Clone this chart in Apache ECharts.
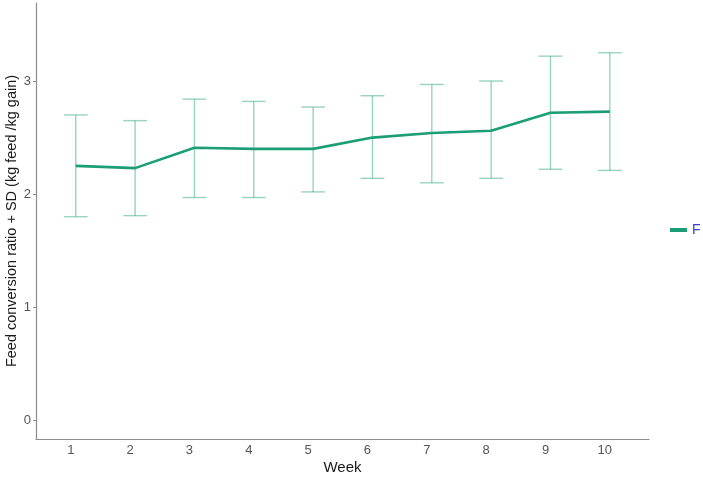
<!DOCTYPE html>
<html>
<head>
<meta charset="utf-8">
<script src="https://cdn.jsdelivr.net/npm/echarts@6/dist/echarts.min.js"></script>
<style>html,body{margin:0;padding:0;background:#fff;}#c{width:703px;height:480px;}</style>
</head>
<body>
<div id="c"></div>
<script>
var weeks = [1, 2, 3, 4, 5, 6, 7, 8, 9, 10];
var fcrMean = [2.25, 2.23, 2.41, 2.40, 2.40, 2.50, 2.54, 2.56, 2.72, 2.73];
var fcrLow  = [1.80, 1.81, 1.97, 1.97, 2.02, 2.14, 2.10, 2.14, 2.22, 2.21];
var fcrHigh = [2.70, 2.65, 2.84, 2.82, 2.77, 2.87, 2.97, 3.00, 3.22, 3.25];
var yTicks = [0, 1, 2, 3];
var seriesName = 'F';

var lineData = weeks.map(function (w, i) { return [w, fcrMean[i]]; });
var errData = weeks.map(function (w, i) { return [w, fcrLow[i], fcrHigh[i]]; });

var chart = echarts.init(document.getElementById('c'));
chart.setOption({
  animation: false,
  backgroundColor: '#ffffff',
  grid: { left: 36, right: 54, top: 3, bottom: 41, containLabel: false, outerBoundsMode: 'none' },
  legend: {
    data: [{ name: seriesName, icon: 'rect' }],
    left: 665, top: 218, orient: 'vertical',
    itemWidth: 17, itemHeight: 4, itemGap: 4,
    textStyle: { color: '#3a3ad6', fontSize: 14, fontFamily: 'Liberation Sans' }
  },
  xAxis: {
    type: 'value', min: 0.33, max: 10.66,
    name: 'Week', nameLocation: 'middle', nameGap: 21, nameMoveOverlap: false,
    nameTextStyle: { color: '#1a1a1a', fontSize: 15, fontFamily: 'Liberation Sans' },
    axisLine: { onZero: false, lineStyle: { color: '#8c8c8c', width: 1.2 } },
    axisTick: { show: false },
    splitLine: { show: false },
    axisLabel: { customValues: weeks, color: '#555555', fontSize: 13, fontFamily: 'Liberation Sans', margin: 5, padding: [0, 10, 0, 0] }
  },
  yAxis: {
    type: 'value', min: -0.165, max: 3.69,
    name: 'Feed conversion ratio + SD (kg feed /kg gain)', nameLocation: 'middle', nameGap: 17, nameRotate: 90, nameMoveOverlap: false,
    nameTextStyle: { color: '#1a1a1a', fontSize: 14.5, fontFamily: 'Liberation Sans' },
    axisLine: { show: true, onZero: false, lineStyle: { color: '#8c8c8c', width: 1.2 } },
    axisTick: { show: true, customValues: yTicks, length: 3, lineStyle: { color: '#8c8c8c' } },
    splitLine: { show: false },
    axisLabel: { customValues: yTicks, color: '#555555', fontSize: 13, fontFamily: 'Liberation Sans', margin: 5 }
  },
  series: [
    {
      name: 'err', type: 'custom', data: errData, silent: true,
      renderItem: function (params, api) {
        var x = api.value(0);
        var lo = api.coord([x, api.value(1)]);
        var hi = api.coord([x, api.value(2)]);
        var l = api.coord([x - 0.2, api.value(1)]);
        var r = api.coord([x + 0.2, api.value(1)]);
        var st = { stroke: 'rgba(27,158,119,0.45)', lineWidth: 1.4 };
        return {
          type: 'group', children: [
            { type: 'line', shape: { x1: lo[0], y1: lo[1], x2: hi[0], y2: hi[1] }, style: st },
            { type: 'line', shape: { x1: l[0], y1: lo[1], x2: r[0], y2: lo[1] }, style: st },
            { type: 'line', shape: { x1: l[0], y1: hi[1], x2: r[0], y2: hi[1] }, style: st }
          ]
        };
      }
    },
    {
      name: seriesName, type: 'line', data: lineData, symbol: 'none',
      lineStyle: { color: '#1b9e77', width: 2.6 }, itemStyle: { color: '#1b9e77' }
    }
  ]
});
</script>
</body>
</html>
